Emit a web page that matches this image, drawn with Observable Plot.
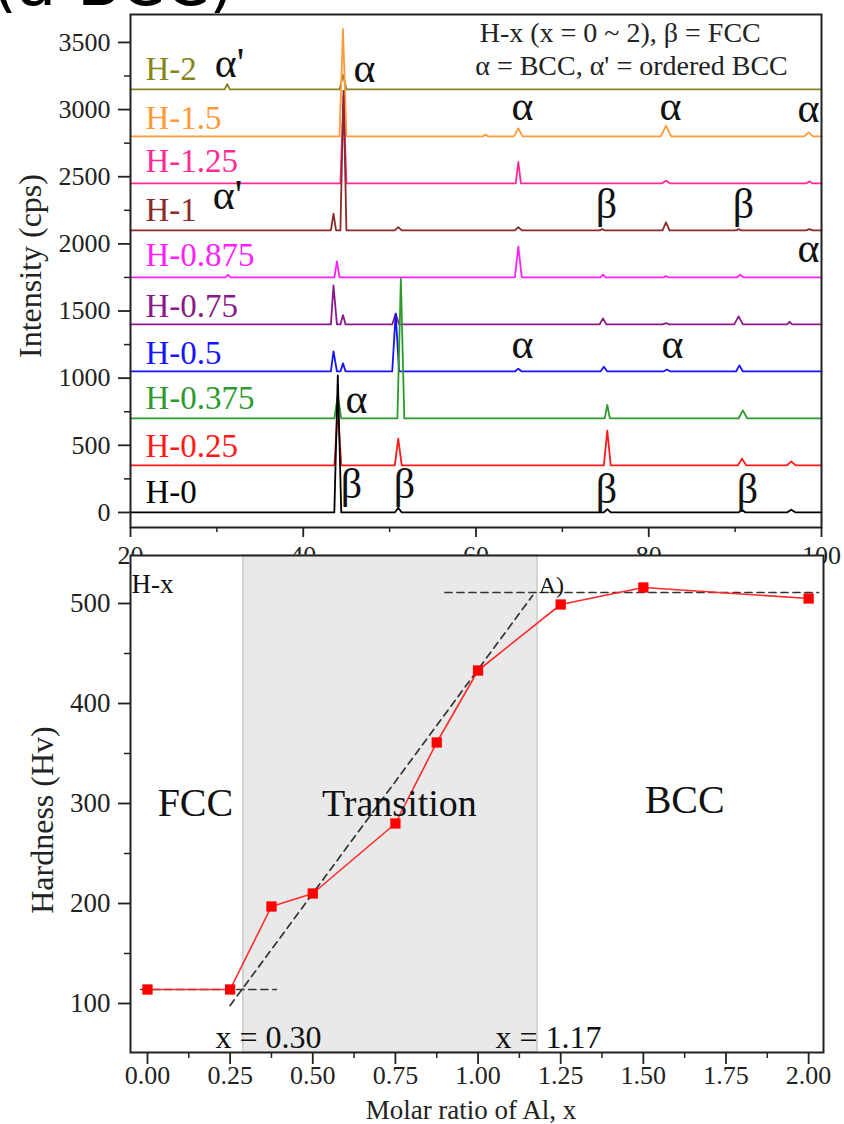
<!DOCTYPE html>
<html><head><meta charset="utf-8">
<script src="https://cdn.jsdelivr.net/npm/d3@7"></script>
<script src="https://cdn.jsdelivr.net/npm/@observablehq/plot@0.6"></script>
<style>
body{margin:0;background:#fff;}
#wrap{position:relative;width:844px;height:1124px;overflow:hidden;font-family:"Liberation Serif",serif;}
#top,#bot{position:absolute;left:0;}
#top{top:0}
#bot{top:540px}
#frag{position:absolute;left:-8px;top:0;width:300px;height:16px;overflow:hidden;}
#frag span{position:absolute;left:0;top:-49px;font:64px/64px "DejaVu Sans";white-space:nowrap;color:#000}
</style></head><body>
<div id="wrap"><div id="top"></div><div id="bot"></div><div id="frag"><span>(a-BCC)</span></div></div>
<script>
// ---------- XRD panel data (2θ in degrees, intensity in cps, offsets included) ----------
const sampleNames  = ["H-0","H-0.25","H-0.375","H-0.5","H-0.75","H-0.875","H-1","H-1.25","H-1.5","H-2"];
const sampleColors = ["#000000","#ff1a1a","#2e9a2e","#1414ff","#8a1a8a","#ff22ff","#8b2a2a","#ff2a95","#ff9a3a","#85851a"];
const labelCps     = [67, 410, 774, 1109, 1452, 1832, 2174, 2532, 2859, 3217];
const labelTheta   = 21.74;

const h0    = [[20,0],[43.6,0],[44.0,1020],[44.4,0],[50.6,0],[51.0,35],[51.4,0],[74.8,0],[75.2,25],[75.6,0],[90.4,0],[90.8,20],[91.2,0],[96.0,0],[96.5,20],[97.0,0],[100,0]];
const h025  = [[20,350],[43.6,350],[44.0,760],[44.4,350],[50.6,350],[51.0,550],[51.4,350],[74.8,350],[75.2,610],[75.6,350],[90.3,350],[90.8,400],[91.3,350],[96.0,350],[96.5,380],[97.0,350],[100,350]];
const h0375 = [[20,700],[43.6,700],[44.0,870],[44.4,700],[50.9,700],[51.3,1740],[51.7,700],[74.9,700],[75.2,800],[75.5,700],[90.4,700],[90.9,760],[91.4,700],[100,700]];
const h05   = [[20,1050],[43.2,1050],[43.5,1200],[43.9,1050],[44.3,1050],[44.6,1110],[44.9,1050],[50.3,1050],[50.7,1480],[51.1,1050],[64.5,1050],[64.9,1070],[65.3,1050],[74.4,1050],[74.8,1085],[75.2,1050],[81.7,1050],[82.1,1065],[82.5,1050],[90.1,1050],[90.5,1095],[90.9,1050],[100,1050]];
const h075  = [[20,1400],[43.2,1400],[43.5,1690],[43.9,1400],[44.3,1400],[44.6,1470],[44.9,1400],[50.3,1400],[50.7,1480],[51.1,1400],[74.3,1400],[74.7,1445],[75.1,1400],[81.6,1400],[82.0,1410],[82.4,1400],[89.9,1400],[90.4,1460],[90.9,1400],[96.0,1400],[96.3,1420],[96.6,1400],[100,1400]];
const h0875 = [[20,1750],[31.0,1750],[31.3,1770],[31.6,1750],[43.6,1750],[43.9,1870],[44.2,1750],[64.5,1750],[64.9,1980],[65.3,1750],[74.4,1750],[74.7,1770],[75.0,1750],[81.7,1750],[82.0,1760],[82.3,1750],[90.2,1750],[90.6,1770],[91.0,1750],[100,1750]];
const h1    = [[20,2100],[43.2,2100],[43.5,2225],[43.8,2100],[44.3,2100],[44.66,3140],[45.0,2100],[50.6,2100],[51.0,2125],[51.4,2100],[64.5,2100],[64.9,2125],[65.3,2100],[74.3,2100],[74.6,2110],[74.9,2100],[81.6,2100],[82.0,2160],[82.4,2100],[90.1,2100],[90.4,2110],[90.7,2100],[98.2,2100],[98.6,2110],[99.0,2100],[100,2100]];
const h125  = [[20,2450],[44.3,2450],[44.66,3100],[45.0,2450],[64.6,2450],[64.9,2610],[65.2,2450],[81.5,2450],[82.0,2470],[82.5,2450],[98.2,2450],[98.6,2465],[99.0,2450],[100,2450]];
const h15   = [[20,2800],[44.2,2800],[44.6,3600],[45.0,2800],[60.8,2800],[61.1,2815],[61.4,2800],[64.4,2800],[64.9,2860],[65.4,2800],[81.4,2800],[82.0,2880],[82.6,2800],[98.0,2800],[98.5,2830],[99.0,2800],[100,2800]];
const h2    = [[20,3150],[30.9,3150],[31.2,3190],[31.5,3150],[44.2,3150],[44.6,3260],[45.0,3150],[100,3150]];
const xrdProfiles = [h0, h025, h0375, h05, h075, h0875, h1, h125, h15, h2];

const phaseText  = ["α'","α","α'","α","α","α","β","β","α","α","α","α","β","β","β","β"];
const phaseTheta = [31.46,47.09,31.23,65.38,82.52,98.5,75.11,90.97,98.5,65.38,82.75,46.16,45.59,51.72,75.11,91.43];
const phaseCps   = [3239,3202,2262,2919,2919,2904,2189,2189,1862,1147,1147,737,104,104,67,67];

const noteLines  = ["H-x (x = 0 ~ 2), β = FCC", "α = BCC, α' = ordered BCC"];
const noteTheta  = [76.7, 78.0];
const noteCps    = [3500, 3254];

const thetaMajor = [20, 40, 60, 80, 100];
const thetaMinor = [30, 50, 70, 90];
const cpsMajor   = [0, 500, 1000, 1500, 2000, 2500, 3000, 3500];
const cpsMinor   = [250, 750, 1250, 1750, 2250, 2750, 3250];

// ---------- Hardness panel data ----------
const alRatio  = [0, 0.25, 0.375, 0.5, 0.75, 0.875, 1.0, 1.25, 1.5, 2.0];
const hardness = [114, 114, 197, 210, 280, 361, 433, 499, 516, 505];
const fitLow   = [[-0.02,114],[0.39,114]];
const fitMid   = [[0.25,98],[1.165,508]];
const fitHigh  = [[0.90,511],[2.03,511]];
const transitionBand = [0.29, 1.18];
const hvDomain = [51, 548];
const alDomain = [-0.0514, 2.045];
const alMajor  = [0, 0.25, 0.5, 0.75, 1.0, 1.25, 1.5, 1.75, 2.0];
const alMinor  = [0.125, 0.375, 0.625, 0.875, 1.125, 1.375, 1.625, 1.875];
const hvMajor  = [100, 200, 300, 400, 500];
const hvMinor  = [150, 250, 350, 450];

const regionText = ["H-x","FCC","Transition","BCC","x = 0.30","x = 1.17","A)"];
const regionX    = [0.015, 0.145, 0.762, 1.625, 0.366, 1.213, 1.222];
const regionY    = [511, 288, 288, 291, 56, 56, 511];
const regionSize = [27, 40, 38, 40, 32, 32, 24];
const regionAnchor = ["start","middle","middle","middle","middle","middle","middle"];

// ---------- build tables ----------
const xrdRows = [];
for (let i = xrdProfiles.length - 1; i >= 0; i--) {
  for (const [t, c] of xrdProfiles[i]) xrdRows.push({sample: sampleNames[i], t, c});
}
const labelRows = sampleNames.map((s, i) => ({sample: s, t: labelTheta, c: labelCps[i]}));
const phaseRows = phaseText.map((s, i) => ({s, t: phaseTheta[i], c: phaseCps[i]}));
const noteRows  = noteLines.map((s, i) => ({s, t: noteTheta[i], c: noteCps[i]}));

const hvRows = alRatio.map((x, i) => ({x, y: hardness[i]}));
const fitRows = [];
[fitLow, fitMid, fitHigh].forEach((seg, k) => seg.forEach(([x, y]) => fitRows.push({k, x, y})));
const bandRows = [{x1: transitionBand[0], x2: transitionBand[1], y1: hvDomain[0], y2: hvDomain[1]}];
const regionRows = regionText.map((s, i) => ({s, x: regionX[i], y: regionY[i], size: regionSize[i], a: regionAnchor[i]}));

const serif = "Liberation Serif";
const blank = () => "";

const topPlot = Plot.plot({
  width: 844, height: 575,
  marginLeft: 130, marginRight: 23, marginTop: 14, marginBottom: 48,
  style: {background: "transparent", fontFamily: serif, color: "#222"},
  x: {domain: [20, 100]},
  y: {domain: [-112, 3708]},
  color: {domain: sampleNames, range: sampleColors},
  marks: [
    Plot.axisY({ticks: cpsMajor, tickSize: 12, tickPadding: 8, fontSize: 26, fontFamily: serif, label: null, tickFormat: d => String(d), strokeWidth: 1.8}),
    Plot.axisY({ticks: cpsMinor, tickSize: 6, label: null, tickFormat: blank, strokeWidth: 1.5}),
    Plot.axisX({ticks: thetaMajor, tickSize: 10, tickPadding: 8, fontSize: 26, fontFamily: serif, label: null, tickFormat: d => String(d), strokeWidth: 1.8}),
    Plot.axisX({ticks: thetaMinor, tickSize: 5, label: null, tickFormat: blank, strokeWidth: 1.5}),
    Plot.line(xrdRows, {x: "t", y: "c", z: "sample", stroke: "sample", strokeWidth: 1.8}),
    Plot.text(labelRows, {x: "t", y: "c", text: "sample", fill: "sample", textAnchor: "start", lineAnchor: "bottom", fontSize: 33, fontFamily: serif}),
    Plot.text(phaseRows, {x: "t", y: "c", text: "s", fill: "#111", lineAnchor: "bottom", fontSize: 42, fontFamily: serif, clip: true}),
    Plot.text(noteRows, {x: "t", y: "c", text: "s", fill: "#222", lineAnchor: "bottom", fontSize: 28, fontFamily: serif}),
    Plot.text(["Intensity (cps)"], {frameAnchor: "left", rotate: -90, dx: -100, dy: -5, textAnchor: "middle", lineAnchor: "middle", fontSize: 32, fontFamily: serif, fill: "#222"}),
    Plot.frame({stroke: "#222", strokeWidth: 2})
  ]
});
document.getElementById("top").appendChild(topPlot);

const botPlot = Plot.plot({
  width: 844, height: 584,
  marginLeft: 130, marginRight: 21, marginTop: 15, marginBottom: 72,
  style: {background: "transparent", fontFamily: serif, color: "#222"},
  x: {domain: alDomain},
  y: {domain: hvDomain},
  marks: [
    Plot.frame({fill: "white"}),
    Plot.rect(bandRows, {x1: "x1", x2: "x2", y1: "y1", y2: "y2", fill: "#e9e9e9", stroke: "#b5b5b5", strokeWidth: 1}),
    Plot.axisY({ticks: hvMajor, tickSize: 12, tickPadding: 8, fontSize: 27, fontFamily: serif, label: null, tickFormat: d => String(d), strokeWidth: 1.8}),
    Plot.axisY({ticks: hvMinor, tickSize: 6, label: null, tickFormat: blank, strokeWidth: 1.5}),
    Plot.axisX({ticks: alMajor, tickSize: 12, tickPadding: 1, fontSize: 26, fontFamily: serif, label: null, tickFormat: d3.format(".2f"), strokeWidth: 1.8}),
    Plot.axisX({ticks: alMinor, tickSize: 6, label: null, tickFormat: blank, strokeWidth: 1.5}),
    Plot.line(fitRows, {x: "x", y: "y", z: "k", stroke: "#333", strokeWidth: 1.7, strokeDasharray: "7,5"}),
    Plot.line(hvRows, {x: "x", y: "y", stroke: "#ff2a2a", strokeWidth: 1.6}),
    Plot.dot(hvRows, {x: "x", y: "y", symbol: "square", fill: "#ff0000", r: 5.8}),
    Plot.text(regionRows, {x: "x", y: "y", text: "s", fontSize: "size", textAnchor: d => d.a, lineAnchor: "bottom", fontFamily: serif, fill: "#111"}),
    Plot.text(["Hardness (Hv)"], {frameAnchor: "left", rotate: -90, dx: -88, dy: 16, textAnchor: "middle", lineAnchor: "middle", fontSize: 32, fontFamily: serif, fill: "#222"}),
    Plot.text(["Molar ratio of Al, x"], {frameAnchor: "bottom", dx: -6, dy: 58, textAnchor: "middle", lineAnchor: "middle", fontSize: 27, fontFamily: serif, fill: "#222"}),
    Plot.frame({stroke: "#222", strokeWidth: 2})
  ]
});
document.getElementById("bot").appendChild(botPlot);
</script>
</body></html>
